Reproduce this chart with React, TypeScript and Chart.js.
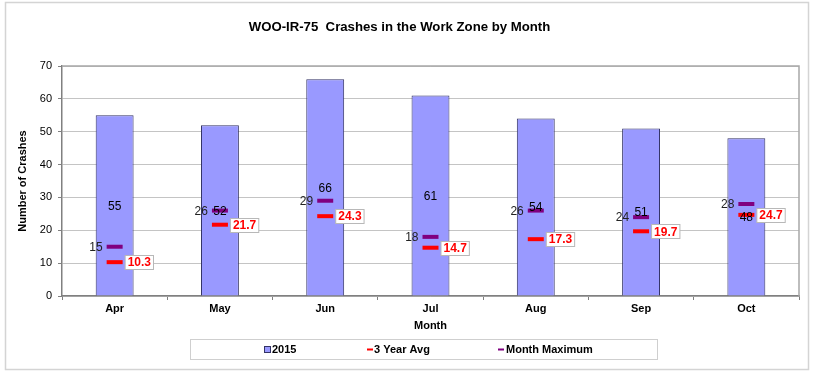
import React, { useEffect, useRef } from "react";
import { Chart, registerables } from "chart.js";

Chart.register(...registerables);

const months = ["Apr", "May", "Jun", "Jul", "Aug", "Sep", "Oct"];
const crashes2015 = [55, 52, 66, 61, 54, 51, 48];
const threeYearAvg = [10.3, 21.7, 24.3, 14.7, 17.3, 19.7, 24.7];
const monthMaximum = [15, 26, 29, 18, 26, 24, 28];
const yTicks = { min: 0, max: 70, step: 10 };

const FONT = "'Liberation Sans', Arial, sans-serif";

const framePlugin = {
  id: "frame",
  beforeDraw(chart: any) {
    const ctx = chart.ctx;
    ctx.save();
    ctx.fillStyle = "#fff";
    ctx.fillRect(0, 0, chart.width, chart.height);
    ctx.strokeStyle = "#d4d4d4";
    ctx.lineWidth = 1.5;
    ctx.strokeRect(5.5, 2.5, chart.width - 11, chart.height - 7);
    ctx.restore();
  },
  afterDraw(chart: any) {
    const ctx = chart.ctx;
    const a = chart.chartArea;
    ctx.save();
    ctx.strokeStyle = "#a8a8a8";
    ctx.lineWidth = 1.5;
    ctx.beginPath();
    ctx.moveTo(a.left, a.top);
    ctx.lineTo(a.right, a.top);
    ctx.lineTo(a.right, a.bottom);
    ctx.stroke();
    ctx.restore();
  },
};

const labelsPlugin = {
  id: "labels",
  afterDatasetsDraw(chart: any) {
    const ctx = chart.ctx;
    ctx.save();
    // month maximum labels (left)
    const maxMeta = chart.getDatasetMeta(2);
    ctx.font = `12px ${FONT}`;
    ctx.fillStyle = "#222";
    ctx.textAlign = "right";
    ctx.textBaseline = "middle";
    maxMeta.data.forEach((el: any, i: number) => {
      ctx.fillText(String(monthMaximum[i]), el.x - 12, el.y + 1);
    });
    // 3 year avg labels (right, boxed)
    const avgMeta = chart.getDatasetMeta(1);
    ctx.font = `bold 12px ${FONT}`;
    avgMeta.data.forEach((el: any, i: number) => {
      const t = threeYearAvg[i].toFixed(1);
      const w = ctx.measureText(t).width + 5;
      const x0 = el.x + 10.5;
      const y0 = Math.round(el.y - 7) + 0.5;
      ctx.fillStyle = "#fff";
      ctx.fillRect(x0, y0, w, 14);
      ctx.strokeStyle = "#b8b8b8";
      ctx.lineWidth = 1;
      ctx.strokeRect(x0, y0, w, 14);
      ctx.fillStyle = "#ff0000";
      ctx.textAlign = "left";
      ctx.fillText(t, x0 + 2.5, el.y + 1);
    });
    // bar labels (center)
    const barMeta = chart.getDatasetMeta(0);
    ctx.font = `12px ${FONT}`;
    ctx.fillStyle = "#000";
    ctx.textAlign = "center";
    barMeta.data.forEach((el: any, i: number) => {
      ctx.fillText(String(crashes2015[i]), el.x, (el.y + el.base) / 2 + 1);
    });
    ctx.restore();
  },
};

const legendPlugin = {
  id: "customLegend",
  afterDraw(chart: any) {
    const ctx = chart.ctx;
    ctx.save();
    ctx.strokeStyle = "#cfcfcf";
    ctx.lineWidth = 1;
    ctx.strokeRect(190.5, 339.5, 467, 20);
    ctx.font = `bold 11px ${FONT}`;
    ctx.textBaseline = "middle";
    ctx.textAlign = "left";
    const cy = 349.5;
    const ds = chart.data.datasets;
    // 2015
    ctx.fillStyle = ds[0].backgroundColor;
    ctx.fillRect(264.5, cy - 3, 6, 6);
    ctx.strokeStyle = "#333366";
    ctx.strokeRect(264.5, cy - 3, 6, 6);
    ctx.fillStyle = "#000";
    ctx.fillText(ds[0].label, 272, cy);
    // 3 Year Avg
    ctx.fillStyle = ds[1].borderColor;
    ctx.fillRect(367, cy - 1, 6, 2);
    ctx.fillStyle = "#000";
    ctx.fillText(ds[1].label, 374, cy);
    // Month Maximum
    ctx.fillStyle = ds[2].borderColor;
    ctx.fillRect(498, cy - 1, 6, 2);
    ctx.fillStyle = "#000";
    ctx.fillText(ds[2].label, 506, cy);
    ctx.restore();
  },
};

export default function App() {
  const ref = useRef<HTMLCanvasElement>(null);
  useEffect(() => {
    document.body.style.margin = "0";
    Chart.defaults.font.family = FONT;
    const chart = new Chart(ref.current!, {
      type: "bar",
      data: {
        labels: months,
        datasets: [
          {
            type: "bar",
            label: "2015",
            data: crashes2015,
            backgroundColor: "#9999ff",
            borderColor: "#333366",
            borderWidth: 1,
            barPercentage: 0.36,
            categoryPercentage: 1,
            order: 3,
          },
          {
            type: "line",
            label: "3 Year Avg",
            data: threeYearAvg,
            showLine: false,
            pointStyle: "line",
            pointRadius: 8,
            pointBorderWidth: 4,
            borderColor: "#ff0000",
            backgroundColor: "#ff0000",
            order: 1,
          },
          {
            type: "line",
            label: "Month Maximum",
            data: monthMaximum,
            showLine: false,
            pointStyle: "line",
            pointRadius: 8,
            pointBorderWidth: 4,
            borderColor: "#800080",
            backgroundColor: "#800080",
            order: 2,
          },
        ],
      } as any,
      options: {
        responsive: false,
        animation: false,
        devicePixelRatio: 1,
        layout: { padding: { left: 0, right: 15, top: 10, bottom: 38 } },
        plugins: {
          legend: { display: false },
          tooltip: { enabled: false },
          title: {
            display: true,
            text: "WOO-IR-75  Crashes in the Work Zone by Month",
            color: "#000",
            font: { size: 13.2, weight: "bold", family: FONT },
            padding: { top: 9, bottom: 31.2 },
          },
        },
        scales: {
          x: {
            offset: true,
            afterFit: (s: any) => {
              s.height = 40;
            },
            grid: {
              offset: true,
              drawOnChartArea: false,
              drawTicks: true,
              tickLength: 4,
              color: "#808080",
            },
            border: { display: true, color: "#808080", width: 1.5 },
            ticks: {
              color: "#000",
              font: { size: 11, weight: "bold", family: FONT },
              padding: 2,
            },
            title: {
              display: true,
              text: "Month",
              color: "#000",
              font: { size: 11, weight: "bold", family: FONT },
              padding: { top: 0, bottom: 3.4 },
            },
          },
          y: {
            min: yTicks.min,
            max: yTicks.max,
            afterFit: (s: any) => {
              s.width = 62;
            },
            grid: {
              color: "#c4c4c4",
              tickLength: 4,
              tickColor: "#808080",
            },
            border: { display: true, color: "#808080", width: 1.5 },
            ticks: {
              stepSize: yTicks.step,
              color: "#000",
              font: { size: 11, family: FONT },
              padding: 6,
            },
            title: {
              display: true,
              text: "Number of Crashes",
              color: "#000",
              font: { size: 11, weight: "bold", family: FONT },
              padding: { top: 16, bottom: 0 },
            },
          },
        },
      } as any,
      plugins: [framePlugin, labelsPlugin, legendPlugin],
    });
    return () => chart.destroy();
  }, []);
  return <canvas ref={ref} width={814} height={374} style={{ display: "block" }} />;
}
